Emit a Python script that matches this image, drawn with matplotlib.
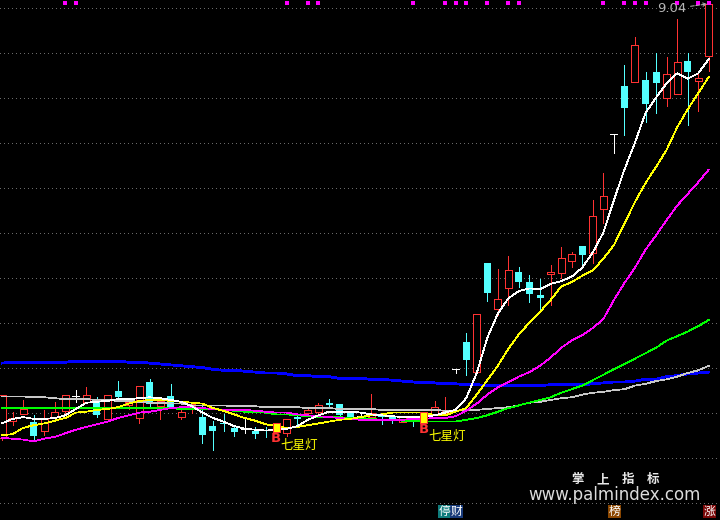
import matplotlib
matplotlib.use('Agg')
import matplotlib.pyplot as plt
from matplotlib.patches import Rectangle
import matplotlib.transforms as mtrans

plt.rcParams['font.family'] = ['Noto Sans CJK SC', 'DejaVu Sans']

# ---------------- data (prices) ----------------
opens = [4.22, 4.41, 4.48, 4.40, 4.30, 4.45, 4.52, 4.68, 4.62, 4.65,
         4.43, 4.74, 4.58, 4.44, 4.84, 4.57, 4.68, 4.45, 4.56, 4.45,
         4.35, 4.38, 4.33, 4.32, 4.30, 4.31, 4.28, 4.27, 4.45, 4.50,
         4.51, 4.61, 4.60, 4.50, 4.46, 4.45, 4.46, 4.45, 4.40, 4.44,
         4.38, 4.47, 4.50, 4.98, 5.28, 4.95, 6.16, 5.65, 5.88, 6.06,
         5.95, 5.81, 6.04, 6.05, 6.18, 6.35, 6.27, 6.76, 7.60, 8.13,
         8.17, 8.20, 8.28, 8.00, 8.04, 8.41, 8.18, 8.46]
highs = [4.70, 4.51, 4.64, 4.47, 4.53, 4.62, 4.70, 4.75, 4.78, 4.67,
         4.70, 4.85, 4.66, 4.80, 4.87, 4.67, 4.82, 4.55, 4.60, 4.58,
         4.41, 4.48, 4.36, 4.45, 4.34, 4.34, 4.38, 4.43, 4.50, 4.55,
         4.61, 4.65, 4.60, 4.50, 4.50, 4.71, 4.46, 4.45, 4.45, 4.44,
         4.51, 4.63, 4.67, 4.98, 5.38, 5.60, 6.16, 6.10, 6.24, 6.12,
         6.03, 5.98, 6.14, 6.34, 6.28, 6.35, 6.86, 7.16, 7.60, 8.36,
         8.67, 8.28, 8.50, 8.45, 8.87, 8.50, 8.28, 9.04]
lows = [4.20, 4.36, 4.48, 4.21, 4.25, 4.44, 4.47, 4.62, 4.62, 4.45,
        4.43, 4.67, 4.54, 4.38, 4.56, 4.43, 4.56, 4.43, 4.50, 4.16,
        4.08, 4.30, 4.24, 4.27, 4.22, 4.23, 4.28, 4.24, 4.37, 4.46,
        4.50, 4.56, 4.42, 4.44, 4.45, 4.45, 4.37, 4.38, 4.40, 4.35,
        4.38, 4.47, 4.50, 4.94, 4.92, 4.95, 5.74, 5.58, 5.70, 5.90,
        5.73, 5.63, 5.70, 6.00, 6.12, 6.11, 6.16, 6.61, 7.38, 7.58,
        8.17, 7.73, 7.83, 7.91, 8.04, 7.70, 7.85, 8.30]
closes = [4.70, 4.44, 4.54, 4.24, 4.44, 4.51, 4.70, 4.68, 4.70, 4.47,
          4.70, 4.67, 4.62, 4.80, 4.60, 4.63, 4.56, 4.51, 4.60, 4.25,
          4.30, 4.37, 4.28, 4.32, 4.26, 4.30, 4.38, 4.43, 4.43, 4.53,
          4.58, 4.58, 4.47, 4.44, 4.46, 4.50, 4.45, 4.43, 4.45, 4.40,
          4.51, 4.56, 4.53, 4.98, 5.08, 5.60, 5.83, 5.76, 6.08, 5.95,
          5.82, 5.77, 6.06, 6.22, 6.26, 6.25, 6.68, 6.91, 7.60, 7.88,
          8.58, 7.93, 8.16, 8.26, 8.40, 8.28, 8.22, 9.04]

ma5 = [4.38, 4.43, 4.45, 4.43, 4.43, 4.44, 4.47, 4.54, 4.61, 4.62,
       4.63, 4.65, 4.65, 4.66, 4.67, 4.66, 4.64, 4.62, 4.57, 4.50,
       4.44, 4.40, 4.35, 4.32, 4.31, 4.30, 4.31, 4.32, 4.35, 4.42,
       4.47, 4.51, 4.51, 4.51, 4.50, 4.48, 4.47, 4.46, 4.45, 4.45,
       4.45, 4.47, 4.50, 4.53, 4.66, 4.94, 5.33, 5.60, 5.77, 5.85,
       5.88, 5.87, 5.93, 5.96, 6.01, 6.11, 6.28, 6.50, 6.86, 7.20,
       7.50, 7.83, 8.00, 8.16, 8.27, 8.21, 8.27, 8.43]
ma10 = [4.25, 4.26, 4.33, 4.36, 4.38, 4.41, 4.44, 4.50, 4.51, 4.53,
        4.54, 4.56, 4.60, 4.63, 4.64, 4.64, 4.63, 4.62, 4.61, 4.60,
        4.55, 4.52, 4.48, 4.44, 4.41, 4.37, 4.35, 4.33, 4.34, 4.36,
        4.38, 4.40, 4.42, 4.43, 4.45, 4.47, 4.48, 4.50, 4.50, 4.50,
        4.50, 4.47, 4.47, 4.51, 4.55, 4.70, 4.86, 5.02, 5.21, 5.37,
        5.50, 5.62, 5.75, 5.90, 5.95, 6.02, 6.08, 6.21, 6.36, 6.60,
        6.84, 7.05, 7.23, 7.42, 7.67, 7.87, 8.05, 8.23]
ma20 = [4.22, 4.21, 4.20, 4.18, 4.21, 4.23, 4.27, 4.31, 4.34, 4.37,
        4.40, 4.44, 4.47, 4.50, 4.51, 4.53, 4.55, 4.56, 4.56, 4.55,
        4.54, 4.53, 4.53, 4.53, 4.52, 4.51, 4.50, 4.50, 4.48, 4.47,
        4.46, 4.45, 4.44, 4.43, 4.42, 4.42, 4.42, 4.42, 4.42, 4.43,
        4.43, 4.44, 4.44, 4.46, 4.52, 4.60, 4.70, 4.78, 4.84, 4.90,
        4.95, 5.02, 5.11, 5.22, 5.30, 5.36, 5.44, 5.54, 5.75, 5.94,
        6.11, 6.31, 6.47, 6.64, 6.80, 6.93, 7.06, 7.20]
ma60 = [4.55, 4.55, 4.55, 4.55, 4.55, 4.55, 4.55, 4.55, 4.55, 4.55,
        4.55, 4.55, 4.55, 4.55, 4.55, 4.55, 4.55, 4.54, 4.54, 4.54,
        4.54, 4.53, 4.52, 4.51, 4.50, 4.50, 4.48, 4.48, 4.47, 4.46,
        4.45, 4.45, 4.45, 4.44, 4.44, 4.43, 4.42, 4.42, 4.41, 4.41,
        4.40, 4.40, 4.40, 4.40, 4.42, 4.44, 4.47, 4.51, 4.55, 4.58,
        4.61, 4.64, 4.67, 4.72, 4.76, 4.80, 4.86, 4.92, 4.98, 5.04,
        5.10, 5.16, 5.22, 5.30, 5.35, 5.40, 5.46, 5.53]
ma120 = [4.68, 4.68, 4.68, 4.67, 4.67, 4.66, 4.65, 4.65, 4.65, 4.64,
         4.64, 4.63, 4.63, 4.62, 4.61, 4.61, 4.60, 4.60, 4.58, 4.58,
         4.58, 4.58, 4.57, 4.57, 4.57, 4.56, 4.56, 4.56, 4.56, 4.55,
         4.55, 4.55, 4.54, 4.54, 4.54, 4.54, 4.53, 4.53, 4.53, 4.53,
         4.53, 4.53, 4.52, 4.52, 4.53, 4.53, 4.54, 4.55, 4.56, 4.58,
         4.61, 4.62, 4.64, 4.66, 4.67, 4.70, 4.72, 4.73, 4.75, 4.76,
         4.80, 4.82, 4.85, 4.87, 4.90, 4.94, 4.97, 5.02]
ma250 = [5.05, 5.06, 5.06, 5.06, 5.06, 5.06, 5.06, 5.07, 5.07, 5.07,
         5.07, 5.07, 5.06, 5.06, 5.05, 5.04, 5.03, 5.02, 5.01, 5.00,
         4.98, 4.97, 4.97, 4.96, 4.95, 4.94, 4.94, 4.93, 4.91, 4.91,
         4.90, 4.90, 4.88, 4.88, 4.88, 4.87, 4.87, 4.86, 4.85, 4.84,
         4.83, 4.83, 4.82, 4.82, 4.81, 4.81, 4.80, 4.80, 4.80, 4.80,
         4.80, 4.80, 4.81, 4.81, 4.81, 4.81, 4.82, 4.83, 4.84, 4.84,
         4.85, 4.87, 4.87, 4.90, 4.91, 4.93, 4.94, 4.95]

signal_idx = [26, 40]
signal_label = '七星灯'
signal_letter = 'B'
top_dot_idx = [6, 7, 27, 29, 30, 39, 42, 43, 44, 46, 48, 49, 57, 59, 60, 61, 64, 66, 67]
high_label = '9.04'
watermark_chars = ['掌', '上', '指', '标']
watermark_url = 'www.palmindex.com'
tabs = [('停', '#0e7c7c'), ('财', '#183a7a'), ('榜', '#8a4600'), ('涨', '#7a0808')]

# ---------------- styling ----------------
RED = '#ff3232'
CYAN = '#54ffff'
WHITE = '#ffffff'
PX = 0.72  # one pixel in points at 100 dpi
THIN = 0.55
W = 700 / 1055.0  # candle body width in index units (about 7 px)

fig = plt.figure(figsize=(7.2, 5.2), dpi=100, facecolor='black')
ax = fig.add_axes([0, 17 / 520, 1, 503 / 520])
ax.set_facecolor('black')
ax.set_xlim(-0.19, 68.06)
ax.set_ylim(3.4955, 9.0844)
ax.axis('off')

# dotted horizontal grid (evenly spaced, layout only)
for k in range(11):
    yf = (503 - 8 - 45 * k) / 503
    ax.plot([0, 1], [yf, yf], transform=ax.transAxes, color='#6a6a6a',
            lw=PX, ls=(0, (1, 3)), antialiased=False, zorder=0)
# bottom border
fig.add_artist(plt.Line2D([0, 1], [17 / 520, 17 / 520], transform=fig.transFigure,
                          color='#6a6a6a', lw=PX, ls=(0, (1, 3)), antialiased=False))

# candles
for i, (o, h, l, c) in enumerate(zip(opens, highs, lows, closes)):
    if i in signal_idx:
        continue
    if c > o:
        ax.plot([i, i], [c, h], color=RED, lw=THIN, antialiased=False, zorder=2)
        ax.plot([i, i], [l, o], color=RED, lw=THIN, antialiased=False, zorder=2)
        ax.add_patch(Rectangle((i - W / 2, o), W, c - o, facecolor='black',
                               edgecolor=RED, lw=PX, antialiased=False, zorder=2))
    elif c < o:
        ax.plot([i, i], [l, h], color=CYAN, lw=THIN, antialiased=False, zorder=2)
        ax.add_patch(Rectangle((i - W / 2, c), W, max(o - c, 0.012), facecolor=CYAN,
                               edgecolor='none', antialiased=False, zorder=2))
    else:
        ax.plot([i, i], [l, h], color=WHITE, lw=THIN, antialiased=False, zorder=2)
        ax.plot([i - W / 2, i + W / 2], [o, o], color=WHITE, lw=PX,
                antialiased=False, zorder=2)

# moving averages
x = list(range(len(closes)))
ax.plot(x, ma250, color='#0000ff', lw=1.3, antialiased=False, zorder=3)
ax.plot(x, ma120, color='#c8c8c8', lw=THIN, antialiased=False, zorder=3)
ax.plot(x, ma60, color='#00ff00', lw=THIN, antialiased=False, zorder=3)
ax.plot(x, ma20, color='#ff00ff', lw=THIN, antialiased=False, zorder=3)
ax.plot(x, ma10, color='#ffff00', lw=THIN, antialiased=False, zorder=3)
ax.plot(x, ma5, color='#ffffff', lw=THIN, antialiased=False, zorder=3)

# signals
for i in signal_idx:
    o, c = opens[i], closes[i]
    ax.add_patch(Rectangle((i - W / 2, o), W, c - o, facecolor='#ffff00',
                           edgecolor=RED, lw=PX, antialiased=False, zorder=5))
    ax.annotate(signal_letter, xy=(i, o), xytext=(0, 0.5), textcoords='offset points',
                ha='center', va='top', color=RED, fontsize=9.5, fontweight='bold',
                family='DejaVu Sans', zorder=6)
    ax.annotate(signal_label, xy=(i, o), xytext=(3.2, -5), textcoords='offset points',
                ha='left', va='top', color='#ffff00', fontsize=9, zorder=6)

# magenta marks at the top
blend = mtrans.blended_transform_factory(ax.transData, ax.transAxes)
ax.scatter(top_dot_idx, [1 - 3 / 503] * len(top_dot_idx), transform=blend,
           marker='s', s=5, color='#ff00ff', linewidths=0, zorder=6, clip_on=False)

# highest price marker
last = len(highs) - 1
ax.annotate(high_label, xy=(last - 0.15, highs[last]), xytext=(-15, -3.5),
            textcoords='offset points', ha='right', va='center', color='#b4b4b4',
            fontsize=9.5, family='DejaVu Sans',
            arrowprops=dict(arrowstyle='->', ls='--', color='#b4b4b4', lw=PX,
                            shrinkA=1, shrinkB=0, mutation_scale=6), zorder=7)

# watermark
for ch, cx in zip(watermark_chars, [577.5, 603, 627.5, 653]):
    fig.text(cx / 720, 1 - 479.5 / 520, ch, ha='center', va='center', color='#e8e8e8',
             fontsize=9, fontweight='bold')
fig.text(614.5 / 720, 1 - 500 / 520, watermark_url, ha='center', va='baseline',
         color='#dcdcdc', fontsize=12, family='DejaVu Sans')

# bottom tabs
for (ch, bg), x0 in zip(tabs, [438, 450, 608, 703]):
    fig.add_artist(Rectangle((x0 / 720, 2 / 520), 12.5 / 720, 13 / 520,
                             transform=fig.transFigure, facecolor=bg, edgecolor='none'))
    fig.text((x0 + 6.25) / 720, 8.5 / 520, ch, ha='center', va='center',
             color='white', fontsize=8.5)

fig.savefig('out.png', dpi=100, facecolor='black')
